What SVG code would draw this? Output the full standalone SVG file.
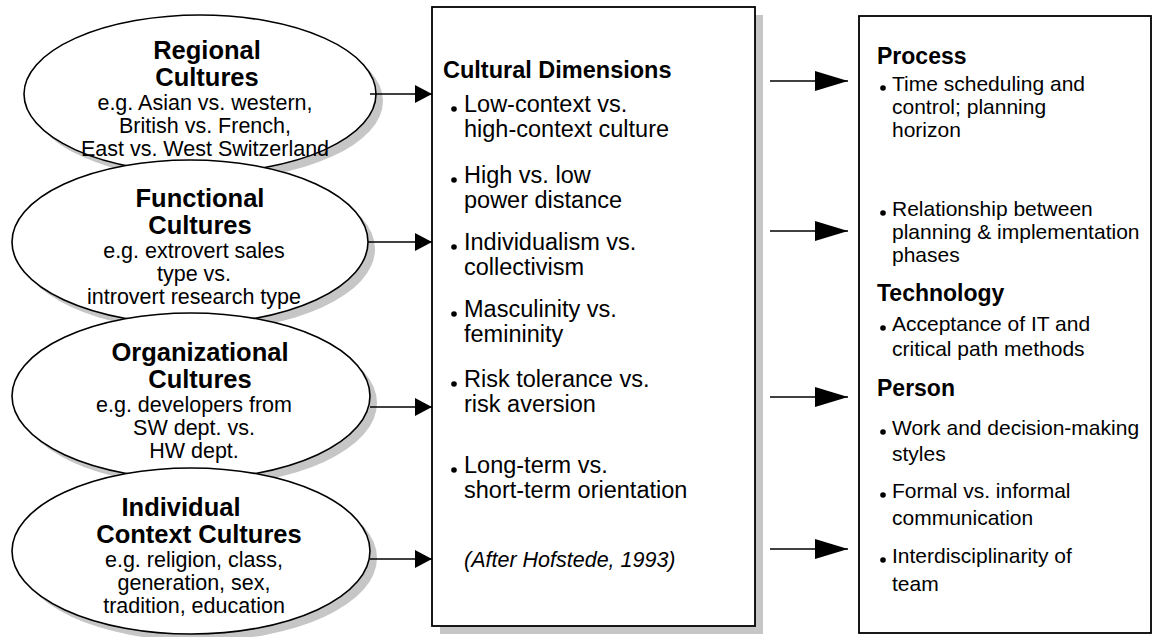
<svg xmlns="http://www.w3.org/2000/svg" width="1156" height="637" viewBox="0 0 1156 637">
  <defs>
    <style>
      .shadow { fill: #c6c6c6; stroke: none; }
      .ell { fill: #ffffff; stroke: #000000; stroke-width: 1.6; }
      .box { fill: #ffffff; stroke: #000000; stroke-width: 1.8; }
      .t { font-family: "Liberation Sans", Arial, sans-serif; fill: #000000; }
      .title { font-weight: bold; font-size: 25.5px; text-anchor: middle; }
      .body { font-size: 21.5px; text-anchor: middle; }
      .mhead { font-weight: bold; font-size: 23.5px; }
      .mitem { font-size: 23.5px; }
      .cite { font-size: 21.5px; font-style: italic; }
      .rhead { font-weight: bold; font-size: 23px; }
      .ritem { font-size: 21px; }
      .dot { fill: #000000; }
      .conn { stroke: #000000; stroke-width: 1.6; fill: none; }
    </style>
    <marker id="headIn" markerUnits="userSpaceOnUse" markerWidth="18" markerHeight="20" refX="17" refY="9" orient="auto">
      <path d="M0,0 L17,9 L0,18 z" fill="#000000"/>
    </marker>
    <marker id="headOut" markerUnits="userSpaceOnUse" markerWidth="34" markerHeight="22" refX="33" refY="10" orient="auto">
      <path d="M0,0 L33,10 L0,20 z" fill="#000000"/>
    </marker>
  </defs>

  <rect width="1156" height="637" fill="#ffffff"/>

  <!-- Culture layers (each overlaps the one above it) -->
  <g id="regional">
    <ellipse class="shadow" cx="207" cy="101" rx="176" ry="79"/>
    <ellipse class="ell" cx="200" cy="94" rx="176" ry="79"/>
    <text class="t title" x="207" y="59">Regional</text>
    <text class="t title" x="207" y="86">Cultures</text>
    <text class="t body" x="205" y="110">e.g. Asian vs. western,</text>
    <text class="t body" x="205" y="133">British vs. French,</text>
    <text class="t body" x="205" y="156">East vs. West Switzerland</text>
  </g>

  <g id="functional">
    <ellipse class="shadow" cx="197" cy="249" rx="178" ry="82"/>
    <ellipse class="ell" cx="190" cy="242" rx="178" ry="82"/>
    <text class="t title" x="200" y="207">Functional</text>
    <text class="t title" x="200" y="234">Cultures</text>
    <text class="t body" x="194" y="258">e.g. extrovert sales</text>
    <text class="t body" x="194" y="281">type vs.</text>
    <text class="t body" x="194" y="304">introvert research type</text>
  </g>

  <g id="organizational">
    <ellipse class="shadow" cx="198" cy="403" rx="179" ry="83"/>
    <ellipse class="ell" cx="191" cy="396" rx="179" ry="83"/>
    <text class="t title" x="200" y="361">Organizational</text>
    <text class="t title" x="200" y="388">Cultures</text>
    <text class="t body" x="194" y="412">e.g. developers from</text>
    <text class="t body" x="194" y="435">SW dept. vs.</text>
    <text class="t body" x="194" y="458">HW dept.</text>
  </g>

  <g id="individual">
    <ellipse class="shadow" cx="198" cy="558" rx="179" ry="83"/>
    <ellipse class="ell" cx="191" cy="551" rx="179" ry="83"/>
    <text class="t title" x="181" y="516">Individual</text>
    <text class="t title" x="199" y="543">Context Cultures</text>
    <text class="t body" x="194" y="567">e.g. religion, class,</text>
    <text class="t body" x="194" y="590">generation, sex,</text>
    <text class="t body" x="194" y="613">tradition, education</text>
  </g>

  <!-- Cultural dimensions -->
  <g id="dimensions">
    <rect class="shadow" x="440" y="15" width="323" height="619"/>
    <rect class="box" x="432" y="7" width="323" height="619"/>
    <text class="t mhead" x="443" y="78">Cultural Dimensions</text>
    <circle class="dot" cx="454" cy="109" r="2.8"/>
    <text class="t mitem" x="464" y="112">Low-context vs.</text>
    <text class="t mitem" x="464" y="137">high-context culture</text>
    <circle class="dot" cx="454" cy="180" r="2.8"/>
    <text class="t mitem" x="464" y="183">High vs. low</text>
    <text class="t mitem" x="464" y="208">power distance</text>
    <circle class="dot" cx="454" cy="247" r="2.8"/>
    <text class="t mitem" x="464" y="250">Individualism vs.</text>
    <text class="t mitem" x="464" y="275">collectivism</text>
    <circle class="dot" cx="454" cy="314" r="2.8"/>
    <text class="t mitem" x="464" y="317">Masculinity vs.</text>
    <text class="t mitem" x="464" y="342">femininity</text>
    <circle class="dot" cx="454" cy="384" r="2.8"/>
    <text class="t mitem" x="464" y="387">Risk tolerance vs.</text>
    <text class="t mitem" x="464" y="412">risk aversion</text>
    <circle class="dot" cx="454" cy="470" r="2.8"/>
    <text class="t mitem" x="464" y="473">Long-term vs.</text>
    <text class="t mitem" x="464" y="498">short-term orientation</text>
    <text class="t cite" x="464" y="567">(After Hofstede, 1993)</text>
  </g>

  <!-- Project aspects affected -->
  <g id="aspects">
    <rect class="box" x="859" y="16" width="292" height="617"/>
    <text class="t rhead" x="877" y="64">Process</text>
    <circle class="dot" cx="883" cy="88" r="2.8"/>
    <text class="t ritem" x="892" y="91">Time scheduling and</text>
    <text class="t ritem" x="892" y="114">control; planning</text>
    <text class="t ritem" x="892" y="137">horizon</text>
    <circle class="dot" cx="883" cy="213" r="2.8"/>
    <text class="t ritem" x="892" y="216">Relationship between</text>
    <text class="t ritem" x="892" y="239">planning &amp; implementation</text>
    <text class="t ritem" x="892" y="262">phases</text>
    <text class="t rhead" x="877" y="301">Technology</text>
    <circle class="dot" cx="883" cy="328" r="2.8"/>
    <text class="t ritem" x="892" y="331">Acceptance of IT and</text>
    <text class="t ritem" x="892" y="356">critical path methods</text>
    <text class="t rhead" x="877" y="396">Person</text>
    <circle class="dot" cx="883" cy="432" r="2.8"/>
    <text class="t ritem" x="892" y="435">Work and decision-making</text>
    <text class="t ritem" x="892" y="461">styles</text>
    <circle class="dot" cx="883" cy="495" r="2.8"/>
    <text class="t ritem" x="892" y="498">Formal vs. informal</text>
    <text class="t ritem" x="892" y="525">communication</text>
    <circle class="dot" cx="883" cy="560" r="2.8"/>
    <text class="t ritem" x="892" y="563">Interdisciplinarity of</text>
    <text class="t ritem" x="892" y="591">team</text>
  </g>

  <!-- Connectors -->
  <g id="connectors">
    <line class="conn" x1="370" y1="94" x2="432" y2="94" marker-end="url(#headIn)"/>
    <line class="conn" x1="368" y1="242" x2="432" y2="242" marker-end="url(#headIn)"/>
    <line class="conn" x1="370" y1="407" x2="432" y2="407" marker-end="url(#headIn)"/>
    <line class="conn" x1="370" y1="559" x2="432" y2="559" marker-end="url(#headIn)"/>
    <line class="conn" x1="770" y1="81" x2="848" y2="81" marker-end="url(#headOut)"/>
    <line class="conn" x1="770" y1="231" x2="848" y2="231" marker-end="url(#headOut)"/>
    <line class="conn" x1="770" y1="397" x2="848" y2="397" marker-end="url(#headOut)"/>
    <line class="conn" x1="770" y1="549" x2="848" y2="549" marker-end="url(#headOut)"/>
  </g>
</svg>
